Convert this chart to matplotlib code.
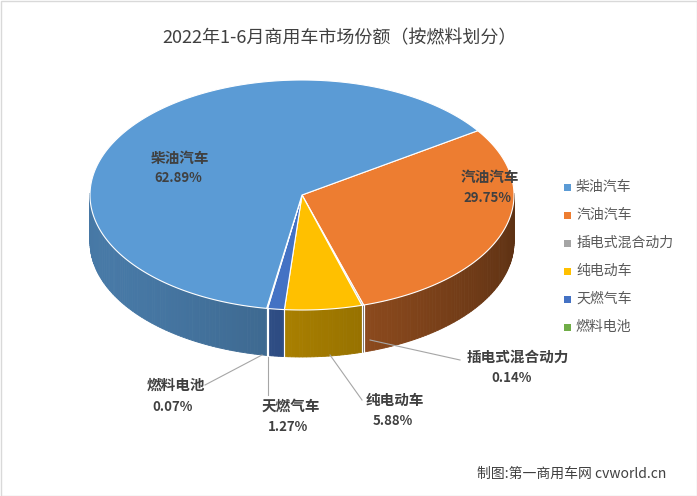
import numpy as np
import matplotlib
matplotlib.use("Agg")
import matplotlib.pyplot as plt
from matplotlib.patches import Polygon, Rectangle
import matplotlib.colors as mc

plt.rcParams['font.family'] = ['Noto Sans CJK SC', 'DejaVu Sans']

title = "2022年1-6月商用车市场份额（按燃料划分）"
categories = ["柴油汽车", "汽油汽车", "插电式混合动力", "纯电动车", "天燃气车", "燃料电池"]
values = [62.89, 29.75, 0.14, 5.88, 1.27, 0.07]
labels_pct = ["62.89%", "29.75%", "0.14%", "5.88%", "1.27%", "0.07%"]
colors = ["#5B9BD5", "#ED7D31", "#A5A5A5", "#FFC000", "#4472C4", "#70AD47"]

W, H = 697, 496
fig = plt.figure(figsize=(W/100, H/100), dpi=100)
ax = fig.add_axes([0, 0, 1, 1])
ax.set_xlim(0, W); ax.set_ylim(H, 0); ax.axis('off')
ax.add_patch(Rectangle((0.5, 0.5), W-1, H-1, fill=False, ec="#D9D9D9", lw=1))

cx, cy, rx, ry, depth = 302, 195, 212, 115, 47
def pt(a):
    r = np.radians(a)
    return cx + rx*np.cos(r), cy - ry*np.sin(r)

order = [1, 2, 3, 4, 5, 0]
start = 34.0
angles = {}
a = start
for i in order:
    sweep = values[i] / sum(values) * 360
    angles[i] = (a - sweep, a)
    a -= sweep

for i in order:
    a0, a1 = angles[i]
    ts = np.arange(a0, a1, 1.0).tolist() + [a1]
    for t0, t1 in zip(ts[:-1], ts[1:]):
        tm = (t0 + t1) / 2
        if np.sin(np.radians(tm)) > 0.02:
            continue
        base = np.array(mc.to_rgb(colors[i]))
        col = np.clip(base * (0.58 + 0.2*np.cos(np.radians(tm - 200))), 0, 1)
        p0 = pt(t0); p1 = pt(t1)
        ax.add_patch(Polygon([p0, p1, (p1[0], p1[1]+depth), (p0[0], p0[1]+depth)],
                             closed=True, fc=col, ec=col, lw=0.6))
for i in order:
    for ang in angles[i]:
        if np.sin(np.radians(ang)) < 0:
            p = pt(ang)
            ax.plot([p[0], p[0]], [p[1], p[1]+depth], color="white", lw=0.8)

for i in order:
    a0, a1 = angles[i]
    ts = np.linspace(a0, a1, max(3, int((a1-a0)*2)))
    pts = [(cx, cy)] + [pt(t) for t in ts]
    ax.add_patch(Polygon(pts, closed=True, fc=colors[i], ec="white", lw=0.8))

lab = {0: (180, 158, 178, 178), 1: (490, 177, 487, 198), 2: (518, 357, 512, 378),
       3: (395, 400, 393, 421), 4: (291, 406, 288, 427), 5: (176, 385, 173, 407)}
for i, (x1, y1, x2, y2) in lab.items():
    ax.text(x1, y1, categories[i], ha='center', va='center', fontsize=10.5,
            fontweight='bold', color="#404040")
    ax.text(x2, y2, labels_pct[i], ha='center', va='center', fontsize=9.5,
            fontweight='bold', color="#404040")
leaders = {2: [(370, 340), (460, 360)], 3: [(330, 355), (362, 400)],
           4: [(268, 357), (268, 395)], 5: [(262, 355), (205, 385)]}
for i, pl in leaders.items():
    xs, ys = zip(*pl)
    ax.plot(xs, ys, color="#A6A6A6", lw=0.8)

for k, (c, name) in enumerate(zip(colors, categories)):
    y = 187 + k*28
    ax.add_patch(Rectangle((564, y-3.5), 7, 7, fc=c, ec='none'))
    ax.text(576, y, name, va='center', ha='left', fontsize=10, color="#595959")

ax.text(340, 38, title, ha='center', va='center', fontsize=13, color="#404040")
ax.text(572, 474, "制图:第一商用车网 cvworld.cn", ha='center', va='center', fontsize=10, color="#404040")

fig.savefig("out.png", dpi=100)
